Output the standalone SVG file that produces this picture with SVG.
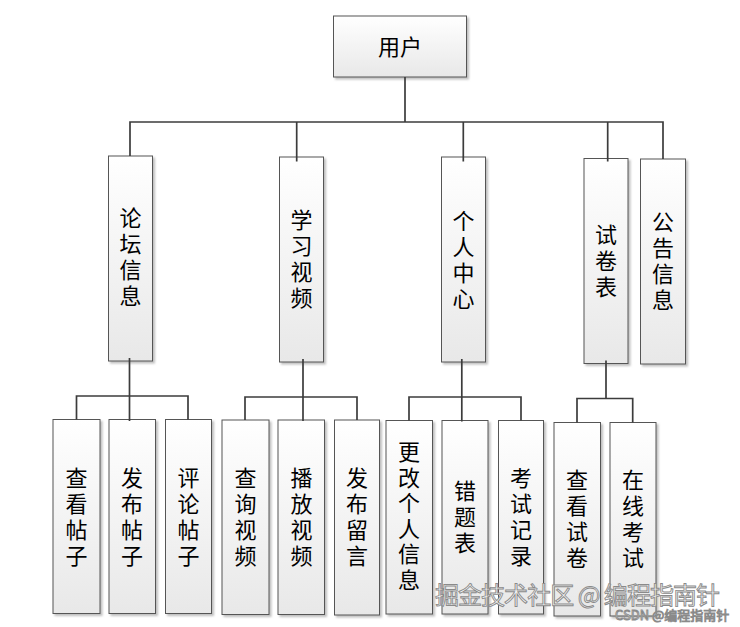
<svg xmlns="http://www.w3.org/2000/svg" width="740" height="627" viewBox="0 0 740 627">
<style>
.box{fill:url(#g);stroke:#555;stroke-width:1;filter:url(#sh)}
.t{font-family:"Noto Sans CJK SC","Noto Sans",sans-serif;font-size:22px;fill:#000;text-anchor:middle}
.c{fill:none;stroke:#3c3c3c;stroke-width:1.7}
.wm{font-family:"Noto Sans CJK SC","Noto Sans",sans-serif;fill:#f6f6f6;stroke:#8a8a8a;stroke-width:0.9}
</style>
<defs>
<linearGradient id="g" x1="0" y1="0" x2="0" y2="1">
<stop offset="0" stop-color="#ffffff"/>
<stop offset="1" stop-color="#e8e8e8"/>
</linearGradient>
<filter id="sh" x="-20%" y="-20%" width="150%" height="150%">
<feDropShadow dx="2" dy="2" stdDeviation="1" flood-color="#888" flood-opacity="0.55"/>
</filter>
</defs>
<rect width="740" height="627" fill="#fff"/>

<g id="n-user"><rect class="box" x="333.5" y="16" width="133" height="61"/><text class="t" x="400" y="54.5">用户</text></g>

<g id="n-forum"><rect class="box" x="108.5" y="156" width="44" height="205"/>
<text class="t" x="130.5" y="226"><tspan x="130.5">论</tspan><tspan x="130.5" dy="26">坛</tspan><tspan x="130.5" dy="26">信</tspan><tspan x="130.5" dy="26">息</tspan></text></g>
<g id="n-video"><rect class="box" x="279.5" y="157" width="44" height="205"/>
<text class="t" x="301.5" y="228"><tspan x="301.5">学</tspan><tspan x="301.5" dy="26">习</tspan><tspan x="301.5" dy="26">视</tspan><tspan x="301.5" dy="26">频</tspan></text></g>
<g id="n-center"><rect class="box" x="441.5" y="157" width="44" height="205"/>
<text class="t" x="463.5" y="228.5"><tspan x="463.5">个</tspan><tspan x="463.5" dy="26">人</tspan><tspan x="463.5" dy="26">中</tspan><tspan x="463.5" dy="26">心</tspan></text></g>
<g id="n-paper"><rect class="box" x="584" y="158.5" width="44" height="205"/>
<text class="t" x="606" y="242.5"><tspan x="606">试</tspan><tspan x="606" dy="26">卷</tspan><tspan x="606" dy="26">表</tspan></text></g>
<g id="n-notice"><rect class="box" x="640.5" y="159" width="45" height="205"/>
<text class="t" x="663" y="230"><tspan x="663">公</tspan><tspan x="663" dy="26">告</tspan><tspan x="663" dy="26">信</tspan><tspan x="663" dy="26">息</tspan></text></g>

<g id="n-viewpost"><rect class="box" x="53" y="419.5" width="47" height="194"/>
<text class="t" x="76.5" y="485.5"><tspan x="76.5">查</tspan><tspan x="76.5" dy="26">看</tspan><tspan x="76.5" dy="26">帖</tspan><tspan x="76.5" dy="26">子</tspan></text></g>
<g id="n-post"><rect class="box" x="109" y="419.5" width="46.5" height="194"/>
<text class="t" x="132" y="485.5"><tspan x="132">发</tspan><tspan x="132" dy="26">布</tspan><tspan x="132" dy="26">帖</tspan><tspan x="132" dy="26">子</tspan></text></g>
<g id="n-comment"><rect class="box" x="165.5" y="419.5" width="46" height="194"/>
<text class="t" x="188.5" y="485.5"><tspan x="188.5">评</tspan><tspan x="188.5" dy="26">论</tspan><tspan x="188.5" dy="26">帖</tspan><tspan x="188.5" dy="26">子</tspan></text></g>

<g id="n-searchvideo"><rect class="box" x="222" y="420" width="47" height="194.5"/>
<text class="t" x="245.5" y="486"><tspan x="245.5">查</tspan><tspan x="245.5" dy="26">询</tspan><tspan x="245.5" dy="26">视</tspan><tspan x="245.5" dy="26">频</tspan></text></g>
<g id="n-playvideo"><rect class="box" x="278" y="420" width="46.5" height="194.5"/>
<text class="t" x="301.5" y="486"><tspan x="301.5">播</tspan><tspan x="301.5" dy="26">放</tspan><tspan x="301.5" dy="26">视</tspan><tspan x="301.5" dy="26">频</tspan></text></g>
<g id="n-message"><rect class="box" x="334.5" y="420" width="45" height="195"/>
<text class="t" x="357" y="486"><tspan x="357">发</tspan><tspan x="357" dy="26">布</tspan><tspan x="357" dy="26">留</tspan><tspan x="357" dy="26">言</tspan></text></g>

<g id="n-editinfo"><rect class="box" x="386" y="420.5" width="46.5" height="193.5"/>
<text class="t" x="409" y="460"><tspan x="409">更</tspan><tspan x="409" dy="25.5">改</tspan><tspan x="409" dy="25.5">个</tspan><tspan x="409" dy="25.5">人</tspan><tspan x="409" dy="25.5">信</tspan><tspan x="409" dy="25.5">息</tspan></text></g>
<g id="n-wrong"><rect class="box" x="442" y="420.5" width="46" height="193.5"/>
<text class="t" x="465" y="499"><tspan x="465">错</tspan><tspan x="465" dy="26">题</tspan><tspan x="465" dy="26">表</tspan></text></g>
<g id="n-record"><rect class="box" x="498.5" y="420.5" width="45" height="193.5"/>
<text class="t" x="521" y="485.5"><tspan x="521">考</tspan><tspan x="521" dy="26">试</tspan><tspan x="521" dy="26">记</tspan><tspan x="521" dy="26">录</tspan></text></g>

<g id="n-viewpaper"><rect class="box" x="554" y="422.5" width="46.5" height="193.5"/>
<text class="t" x="577" y="488"><tspan x="577">查</tspan><tspan x="577" dy="26">看</tspan><tspan x="577" dy="26">试</tspan><tspan x="577" dy="26">卷</tspan></text></g>
<g id="n-exam"><rect class="box" x="610" y="422.5" width="46" height="193.5"/>
<text class="t" x="633" y="488"><tspan x="633">在</tspan><tspan x="633" dy="26">线</tspan><tspan x="633" dy="26">考</tspan><tspan x="633" dy="26">试</tspan></text></g>

<g id="connectors">
<path class="c" d="M405,77 V122 M130,156 V122 H663 V159 M296.7,122 V161.5 M463.3,122 V161.5 M607.7,122 V161.5"/>
<path class="c" d="M129.5,358 V421 M76.5,419.5 V396 H188 V419.5"/>
<path class="c" d="M303,359 V421 M245,420 V397 H357 V420"/>
<path class="c" d="M461.8,359 V421.5 M409,420.5 V397 H521 V420.5"/>
<path class="c" d="M606,360.5 V398.5 M577,422.5 V398.5 H632.7 V422.5"/>
</g>

<text class="wm" x="435" y="604" font-size="24" textLength="285">掘金技术社区 @ 编程指南针</text>
<text class="wm" x="615" y="620" font-size="13" stroke-width="0.6">CSDN @编程指南针</text>
</svg>
